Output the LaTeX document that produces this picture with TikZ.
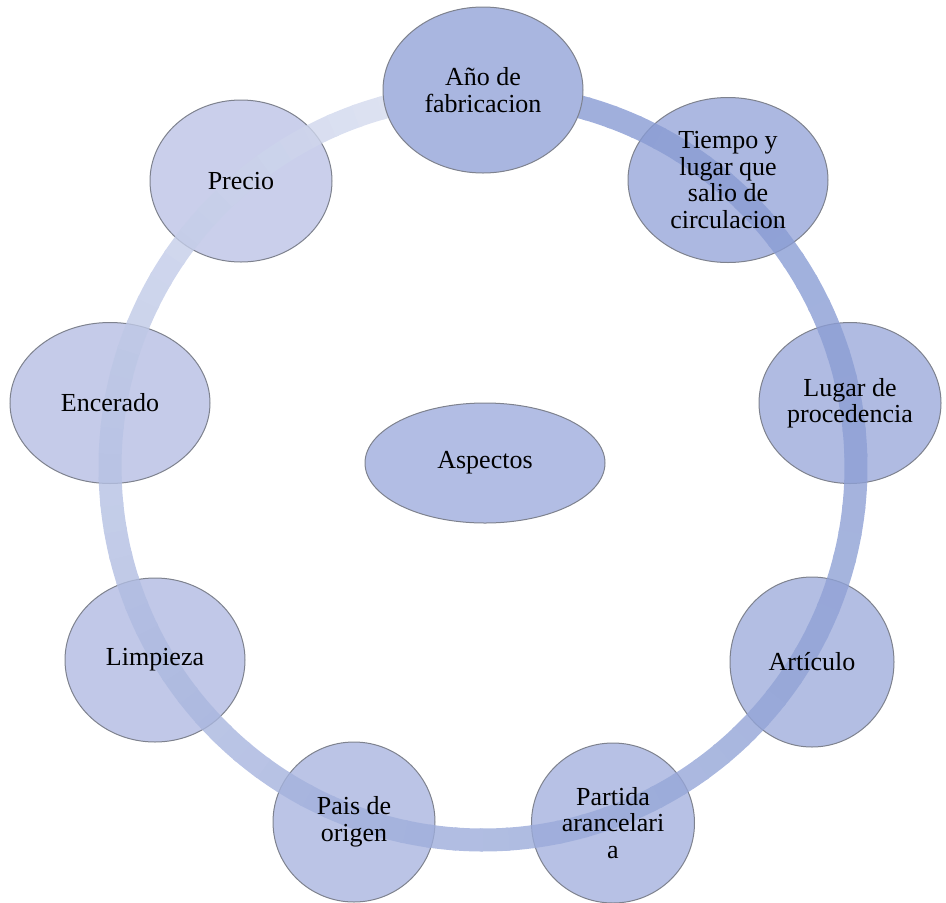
\documentclass[tikz,border=0pt]{standalone}
\usepackage{fontspec}
\setmainfont{Liberation Serif}
\usetikzlibrary{shapes.geometric}
\definecolor{ringdark}{HTML}{889BD3}
\definecolor{ringlight}{HTML}{DBE0F0}
\definecolor{nodeborder}{HTML}{7E828E}
\definecolor{fa}{HTML}{A9B6E0}
\definecolor{fb}{HTML}{ACB8E1}
\definecolor{fc}{HTML}{B0BBE2}
\definecolor{fd}{HTML}{B3BEE3}
\definecolor{fe}{HTML}{B7C1E5}
\definecolor{ff}{HTML}{BBC4E6}
\definecolor{fg}{HTML}{C1C8E8}
\definecolor{fh}{HTML}{C5CBE9}
\definecolor{fi}{HTML}{CACFEB}
\definecolor{fasp}{HTML}{B2BDE4}
\begin{document}
\begin{tikzpicture}[x=1pt,y=1pt,
  blob/.style={ellipse, draw=nodeborder, line width=1pt, inner sep=0pt},
  lbl/.style={align=center, font=\fontsize{26}{26.5}\selectfont, inner sep=0pt, text=black}]
\useasboundingbox (0,0) rectangle (946,-903);

% node shapes (under the ring)
\node[blob, fill=fb, minimum width=200pt, minimum height=165pt] (tiempoS) at (728,-180) {};
\node[blob, fill=fc, minimum width=182pt, minimum height=161pt] (lugarS) at (850,-403) {};
\node[blob, fill=fd, minimum width=164pt, minimum height=170pt] (articuloS) at (812,-662) {};
\node[blob, fill=fe, minimum width=163pt, minimum height=160pt] (partidaS) at (613,-823) {};
\node[blob, fill=ff, minimum width=162pt, minimum height=160pt] (paisS) at (354,-822) {};
\node[blob, fill=fg, minimum width=180pt, minimum height=164pt] (limpiezaS) at (155,-660) {};
\node[blob, fill=fh, minimum width=200pt, minimum height=161pt] (enceradoS) at (110,-403) {};
\node[blob, fill=fi, minimum width=182pt, minimum height=162pt] (precioS) at (241,-181) {};
\node[blob, fill=fasp, minimum width=240pt, minimum height=120pt] (aspectosS) at (485,-463) {};

% ring
\begin{scope}[transparency group, opacity=0.8]
\foreach \i in {0,...,89}{
  \pgfmathsetmacro{\f}{100*((\i+0.5)/90)^2}
  \pgfmathsetmacro{\a}{90-4*\i}
  \colorlet{segc}{ringlight!\f!ringdark}
  \draw[segc, line width=23pt] ({483+373*cos(\a)},{-467+373*sin(\a)}) arc[start angle=\a, end angle=\a-4.5, radius=373];
}
\end{scope}

% first node, over the ring start
\node[blob, fill=fa, minimum width=200pt, minimum height=166pt] (anoS) at (483,-90) {};

% labels
\node[lbl] (ano) at (anoS.center) {Año de\\fabricacion};
\node[lbl] (tiempo) at (tiempoS.center) {Tiempo y\\lugar que\\salio de\\circulacion};
\node[lbl] (lugar) at (lugarS.center) {Lugar de\\procedencia};
\node[lbl] (articulo) at (articuloS.center) {Artículo};
\node[lbl] (partida) at (partidaS.center) {Partida\\arancelari\\a};
\node[lbl] (pais) at (paisS.center) {Pais de\\origen};
\node[lbl] (limpieza) at (limpiezaS.center) {Limpieza};
\node[lbl] (encerado) at (enceradoS.center) {Encerado};
\node[lbl] (precio) at (precioS.center) {Precio};
\node[lbl] (aspectos) at (aspectosS.center) {Aspectos};
\end{tikzpicture}
\end{document}
